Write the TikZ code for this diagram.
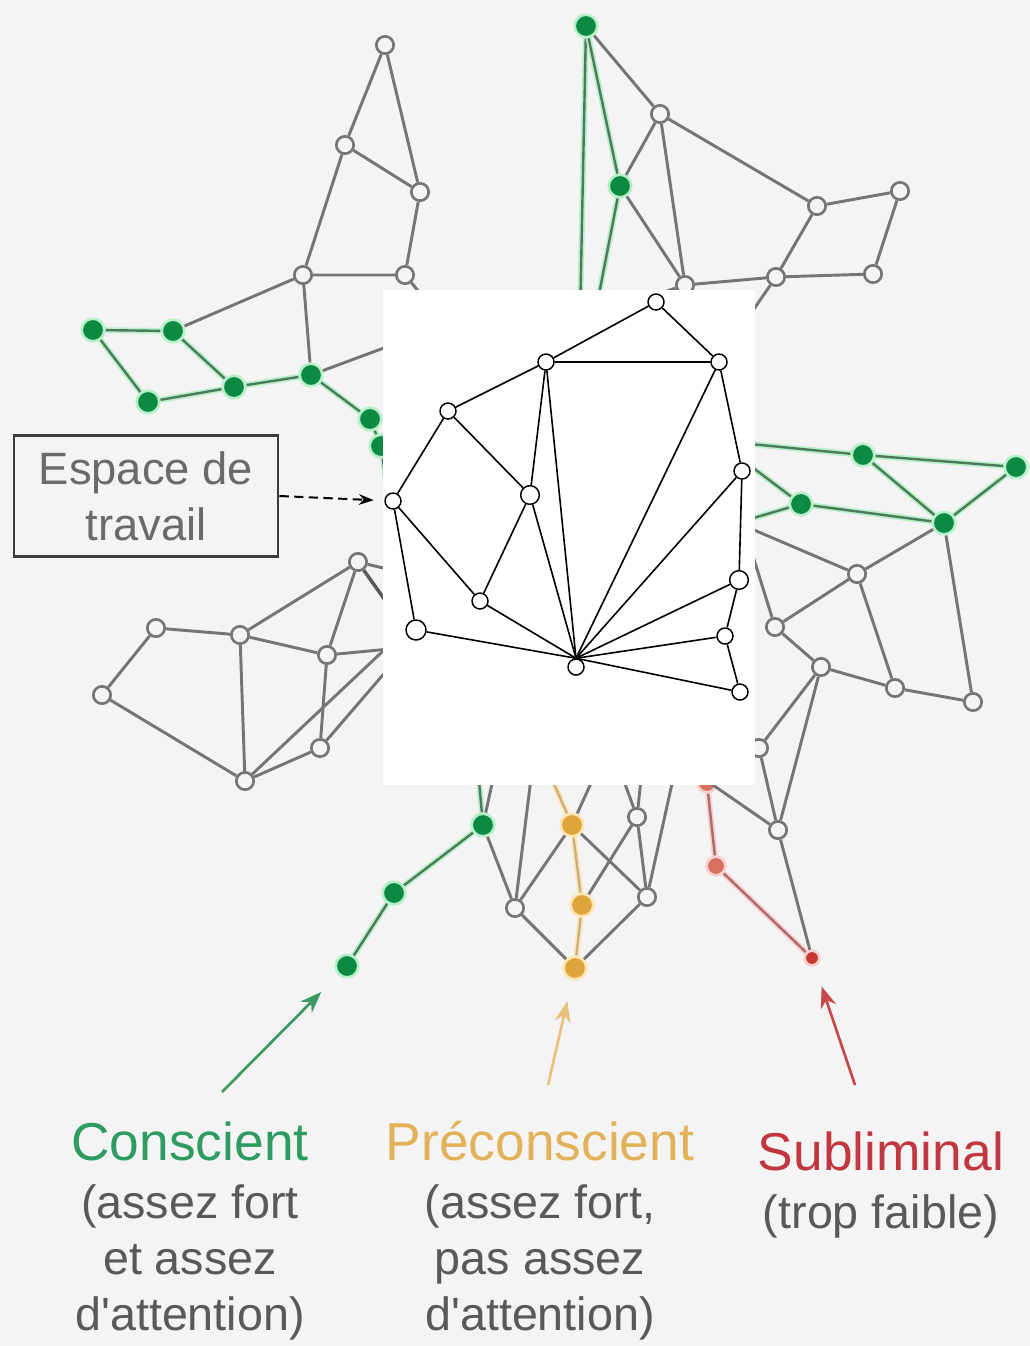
\documentclass[tikz,border=0pt]{standalone}
\usepackage{fontspec}
\setmainfont{Liberation Sans}
\usetikzlibrary{arrows,arrows.meta,positioning}

\definecolor{bg}{HTML}{F4F4F4}
\definecolor{greyline}{HTML}{757575}
\definecolor{gnode}{HTML}{0C8A42}
\definecolor{gglow}{HTML}{B8F0CA}
\definecolor{gline}{HTML}{4E7A5C}
\definecolor{onode}{HTML}{DDA53C}
\definecolor{oglow}{HTML}{FFE6B4}
\definecolor{oline}{HTML}{C9B07C}
\definecolor{rnode}{HTML}{C8372D}
\definecolor{rlight}{HTML}{D8705F}
\definecolor{rglow}{HTML}{F8CFCF}
\definecolor{rline}{HTML}{B06A6A}
\definecolor{boxline}{HTML}{3C3C3C}
\definecolor{boxtext}{HTML}{6A6A6A}
\definecolor{desctext}{HTML}{595959}
\definecolor{ctitle}{HTML}{2E9C62}
\definecolor{ptitle}{HTML}{E2B25A}
\definecolor{stitle}{HTML}{C2363F}
\definecolor{carrow}{HTML}{3A9A64}
\definecolor{parrow}{HTML}{E8C27A}
\definecolor{sarrow}{HTML}{C84848}

\begin{document}
\begin{tikzpicture}[x=0.75pt,y=-0.75pt,
    opendot/.style={circle,draw=greyline,line width=2pt,fill=bg,minimum size=13pt,inner sep=0pt},
    greendot/.style={circle,draw=gglow,line width=2pt,fill=gnode,minimum size=17pt,inner sep=0pt},
    orangedot/.style={circle,draw=oglow,line width=2pt,fill=onode,minimum size=17pt,inner sep=0pt},
    reddot/.style={circle,draw=rglow,line width=2pt,fill=rnode,minimum size=11pt,inner sep=0pt},
    paneldot/.style={circle,draw=black,line width=1.1pt,fill=white,minimum size=12pt,inner sep=0pt},
    link/.style={draw=greyline,line width=2.2pt},
    greenlink/.style={draw=gglow,line width=1.3pt,double=gline,double distance=1.8pt},
    orangelink/.style={draw=oglow,line width=1.3pt,double=oline,double distance=1.8pt},
    redlink/.style={draw=rglow,line width=1.3pt,double=rline,double distance=1.8pt},
    panellink/.style={draw=black,line width=1.2pt},
    heading/.style={font=\fontsize{40}{42}\selectfont,inner sep=0pt,anchor=base},
    desc/.style={font=\fontsize{35}{42}\selectfont,text=desctext,align=center,inner sep=0pt},
    pointer/.style={-{Stealth[length=16pt,width=12pt]},line width=2pt}
]
    \path[use as bounding box,fill=bg] (0,0) rectangle (1030,1346);

    % background network, top left
    \node[opendot] (a1) at (385,45) {};
    \node[opendot] (a2) at (345,145) {};
    \node[opendot] (a3) at (420,192) {};
    \node[opendot] (a4) at (303,275) {};
    \node[opendot] (a5) at (405,275) {};
    \node[greendot] (g1) at (93,330) {};
    \node[greendot] (g2) at (173,331) {};
    \node[greendot] (g3) at (148,402) {};
    \node[greendot] (g4) at (234,387) {};
    \node[greendot] (g5) at (311,375) {};
    \node[greendot] (g6) at (370,419) {};
    \node[greendot] (g7) at (381,446) {};

    % top
    \node[greendot] (t1) at (586,26) {};
    \node[opendot] (t2) at (660,114) {};
    \node[greendot] (t3) at (620,186) {};
    \node[opendot] (t4) at (685,285) {};
    \node[opendot] (t5) at (817,206) {};
    \node[opendot] (t6) at (900,191) {};
    \node[opendot] (t7) at (776,277) {};
    \node[opendot] (t8) at (873,274) {};

    % right
    \node[greendot] (r1) at (863,455) {};
    \node[greendot] (r2) at (1016,467) {};
    \node[greendot] (r3) at (801,504) {};
    \node[greendot] (r4) at (944,523) {};
    \node[opendot] (r5) at (857,574) {};
    \node[opendot] (r6) at (775,627) {};
    \node[opendot] (r7) at (821,667) {};
    \node[opendot] (r8) at (895,688) {};
    \node[opendot] (r9) at (973,702) {};
    \node[opendot] (r11) at (759,748) {};
    \node[opendot] (r10) at (778,830) {};
    \node[reddot,fill=rlight,minimum size=14pt] (s1) at (707,783) {};
    \node[reddot,fill=rlight,minimum size=14pt] (s2) at (716,866) {};
    \node[reddot] (s3) at (812,958) {};

    % bottom
    \node[greendot] (c1) at (483,825) {};
    \node[greendot] (c2) at (394,893) {};
    \node[greendot] (c3) at (347,966) {};
    \node[orangedot] (o1) at (572,825) {};
    \node[orangedot] (o2) at (582,905) {};
    \node[orangedot] (o3) at (575,968) {};
    \node[opendot] (m1) at (515,908) {};
    \node[opendot] (m2) at (647,897) {};
    \node[opendot] (m3) at (637,817) {};

    % left
    \node[opendot] (b1) at (358,562) {};
    \node[opendot] (b2) at (156,628) {};
    \node[opendot] (b3) at (240,635) {};
    \node[opendot] (b4) at (327,655) {};
    \node[opendot] (b5) at (102,695) {};
    \node[opendot] (b6) at (245,781) {};
    \node[opendot] (b7) at (320,748) {};

    % ends hidden under the panel
    \coordinate (g7u) at (392,525);
    \coordinate (g5u) at (400,342);
    \coordinate (a5u) at (430,305);
    \coordinate (t1u) at (580,320);
    \coordinate (t3u) at (594,320);
    \coordinate (t4u) at (640,300);
    \coordinate (t7u) at (745,322);
    \coordinate (r1u) at (740,443);
    \coordinate (r3u) at (740,458);
    \coordinate (r3v) at (740,522);
    \coordinate (r5u) at (740,524);
    \coordinate (r6u) at (748,540);
    \coordinate (r10u) at (700,776);
    \coordinate (c1u) at (478,770);
    \coordinate (c1v) at (495,770);
    \coordinate (m1u) at (532,770);
    \coordinate (o1u) at (548,770);
    \coordinate (o1v) at (597,770);
    \coordinate (m3u) at (620,770);
    \coordinate (m3v) at (642,770);
    \coordinate (m2u) at (675,770);
    \coordinate (b1u) at (400,572);
    \coordinate (b1v) at (392,610);
    \coordinate (b4u) at (400,648);
    \coordinate (b6u) at (400,635);
    \coordinate (b7u) at (400,655);

    \draw[link] (a1) -- (a2) -- (a3) -- (a1);
    \draw[link] (a2) -- (a4) -- (a5) -- (a3);
    \draw[link] (g2) -- (a4) -- (g5);
    \draw[link] (a5) -- (a5u);
    \draw[link] (g5) -- (g5u);
    \draw[greenlink] (g1) -- (g2) -- (g4) -- (g3) -- (g1);
    \draw[greenlink] (g4) -- (g5) -- (g6) -- (g7) -- (g7u);

    \draw[greenlink] (t1) -- (t1u);
    \draw[greenlink] (t1) -- (t3) -- (t3u);
    \draw[link] (t1) -- (t2) -- (t3) -- (t4) -- (t2);
    \draw[link] (t2) -- (t5) -- (t6) -- (t8) -- (t7) -- (t5);
    \draw[link] (t4u) -- (t4) -- (t7) -- (t7u);

    \draw[greenlink] (r1u) -- (r1) -- (r2) -- (r4) -- (r1);
    \draw[greenlink] (r3u) -- (r3) -- (r4);
    \draw[greenlink] (r3v) -- (r3);
    \draw[link] (r5u) -- (r5) -- (r4) -- (r9) -- (r8) -- (r5) -- (r6) -- (r6u);
    \draw[link] (r6) -- (r7) -- (r8);
    \draw[link] (r7) -- (r11) -- (r10) -- (r7);
    \draw[link] (r10u) -- (r10) -- (s3);
    \draw[redlink] (s1) -- (s2) -- (s3);

    \draw[greenlink] (c1u) -- (c1) -- (c2) -- (c3);
    \draw[link] (c1v) -- (c1) -- (m1) -- (m1u);
    \draw[orangelink] (o1u) -- (o1) -- (o2) -- (o3);
    \draw[link] (m1) -- (o1) -- (m2) -- (o3) -- (m1);
    \draw[link] (o1) -- (o1v);
    \draw[link] (m3u) -- (m3) -- (m3v);
    \draw[link] (o2) -- (m3) -- (m2) -- (m2u);

    \draw[link] (b5) -- (b2) -- (b3) -- (b1) -- (b4) -- (b3) -- (b6) -- (b5);
    \draw[link] (b1) -- (b1u);
    \draw[draw=black!65,line width=2.6pt] (b1) -- (b1v);
    \draw[link] (b4u) -- (b4) -- (b7);
    \draw[link] (b6) -- (b6u);
    \draw[link] (b6) -- (b7) -- (b7u);

    % working space panel
    \fill[white] (383,290) rectangle (755,785);
    \node[paneldot] (p1) at (656,302) {};
    \node[paneldot] (p2) at (546,362) {};
    \node[paneldot] (p3) at (719,362) {};
    \node[paneldot] (p4) at (448,411) {};
    \node[paneldot] (p5) at (393,501) {};
    \node[paneldot,minimum size=14pt] (p6) at (530,495) {};
    \node[paneldot] (p7) at (742,471) {};
    \node[paneldot] (p8) at (480,601) {};
    \node[paneldot,minimum size=15pt] (p9) at (416,630) {};
    \node[paneldot] (p10) at (576,667) {};
    \node[paneldot,minimum size=14pt] (p11) at (739,580) {};
    \node[paneldot] (p12) at (725,636) {};
    \node[paneldot] (p13) at (740,692) {};

    \draw[panellink] (p1) -- (p2) -- (p3) -- (p1);
    \draw[panellink] (p2) -- (p4) -- (p5) -- (p9) -- (p10.north);
    \draw[panellink] (p4) -- (p6) -- (p8);
    \draw[panellink] (p2) -- (p6) -- (p10.north);
    \draw[panellink] (p2) -- (p10.north);
    \draw[panellink] (p5) -- (p8) -- (p10.north);
    \draw[panellink] (p3) -- (p7) -- (p11) -- (p12) -- (p13);
    \draw[panellink] (p3) -- (p10.north);
    \draw[panellink] (p7) -- (p10.north);
    \draw[panellink] (p11) -- (p10.north);
    \draw[panellink] (p12) -- (p10.north);
    \draw[panellink] (p13) -- (p10.north);

    % label of the working space
    \node[draw=boxline,line width=2.2pt,text=boxtext,font=\fontsize{34}{42}\selectfont,align=center,
          minimum width=198pt,minimum height=91pt,inner sep=0pt] (espace) at (146,496) {Espace de\\travail};
    \draw[-{Stealth[length=11pt,width=8pt]},line width=1.5pt,dash pattern=on 7pt off 4pt,shorten >=8pt] (espace.east) -- (p5);

    % legends
    \node[heading,text=ctitle] (consc) at (190,1160) {Conscient};
    \node[desc,below=18pt of consc] (conscdesc) {(assez fort\\et assez\\d\textquotesingle attention)};
    \node[heading,text=ptitle] (precons) at (540,1160) {Préconscient};
    \node[desc,below=18pt of precons] (preconsdesc) {(assez fort,\\pas assez\\d\textquotesingle attention)};
    \node[heading,text=stitle] (sublim) at (881,1170) {Subliminal};
    \node[desc,below=18pt of sublim] (sublimdesc) {(trop faible)};

    \coordinate (ctail) at (222,1092);
    \coordinate (ptail) at (548,1085);
    \coordinate (stail) at (855,1085);
    \draw[pointer,draw=carrow,fill=carrow,shorten >=18pt] (ctail) -- (c3);
    \draw[pointer,draw=parrow,fill=parrow,shorten >=16pt] (ptail) -- (o3);
    \draw[pointer,draw=sarrow,fill=sarrow,shorten >=16pt] (stail) -- (s3);
\end{tikzpicture}
\end{document}
